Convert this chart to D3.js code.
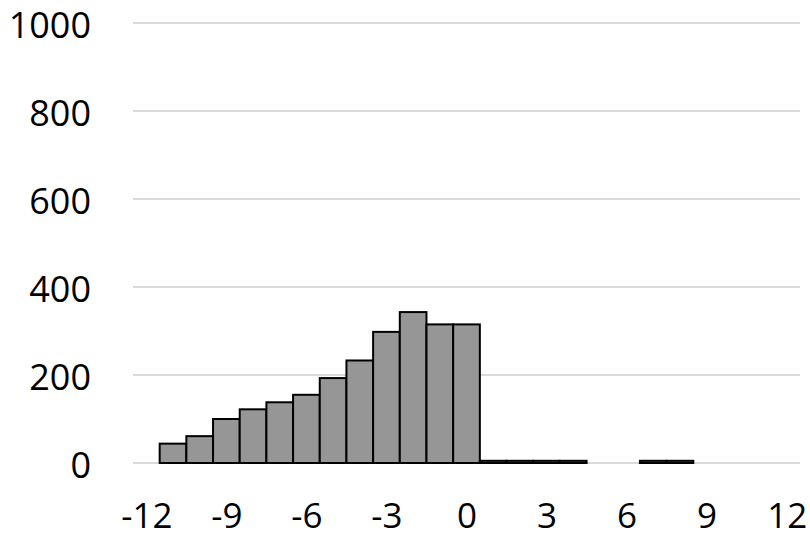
<!DOCTYPE html>
<html>
<head>
<meta charset="utf-8">
<script src="https://cdn.jsdelivr.net/npm/d3@7"></script>
<style>
  body { margin: 0; background: #fff; }
  svg { display: block; }
</style>
</head>
<body>
<svg width="810" height="538"></svg>
<script>
// histogram bins (centre of each bin) and counts
const binCentres = [-11, -10, -9, -8, -7, -6, -5, -4, -3, -2, -1, 0, 1, 2, 3, 4, 7, 8];
const binCounts  = [44, 61, 100, 122, 138, 155, 193, 233, 298, 343, 315, 315, 5, 5, 5, 5, 5, 5];
const xTicks = [-12, -9, -6, -3, 0, 3, 6, 9, 12];
const yTicks = [0, 200, 400, 600, 800, 1000];

const bins = binCentres.map((c, i) => ({ c: c, n: binCounts[i] }));

const margin = { top: 23, right: 10, bottom: 75, left: 133 };
const plotW = 800 - margin.left, plotH = 463 - margin.top;

const svg = d3.select("svg");
const g = svg.append("g")
    .attr("transform", `translate(${margin.left}, ${margin.top})`);

const x = d3.scaleLinear().domain([-12.5, 12.5]).range([0, plotW]);
const y = d3.scaleLinear().domain([0, 1000]).range([plotH, 0]);

// gridlines
g.append("g")
    .selectAll("line")
    .data(yTicks)
    .enter().append("line")
    .attr("x1", 0)
    .attr("x2", plotW)
    .attr("y1", d => y(d))
    .attr("y2", d => y(d))
    .attr("stroke", "#d9d9d9")
    .attr("stroke-width", 2)

// Y labels
const yAxis = d3.axisLeft(y).tickValues(yTicks).tickSize(0).tickPadding(42)
    .tickFormat(d => String(d));
g.append("g").call(yAxis)
    .call(a => a.select(".domain").remove())
    .selectAll("text")
    .attr("dy", "0.39em")
    .attr("font-family", "Open Sans, sans-serif")
    .attr("font-size", "36px")
    .attr("fill", "#000")

// X labels (kept a little higher so they stay inside the frame)
const xAxis = d3.axisBottom(x).tickValues(xTicks).tickSize(0).tickPadding(40)
    .tickFormat(d => String(d));
g.append("g")
    .attr("transform", `translate(0, ${plotH})`)
    .call(xAxis)
    .call(a => a.select(".domain").remove())
    .selectAll("text")
    .attr("font-family", "Open Sans, sans-serif")
    .attr("font-size", "35px")
    .attr("fill", "#000")

// bars
g.selectAll("rect.bar").data(bins)
    .enter().append("rect")
    .attr("class", "bar")
    .attr("x", d => x(d.c - 0.5))
    .attr("width", d => x(d.c + 0.5) - x(d.c - 0.5))
    .attr("y", d => y(d.n))
    .attr("height", d => y(0) - y(d.n))
    .attr("fill", "#969696")
    .attr("stroke", "#000")
    .attr("stroke-width", 2)
</script>
</body>
</html>
